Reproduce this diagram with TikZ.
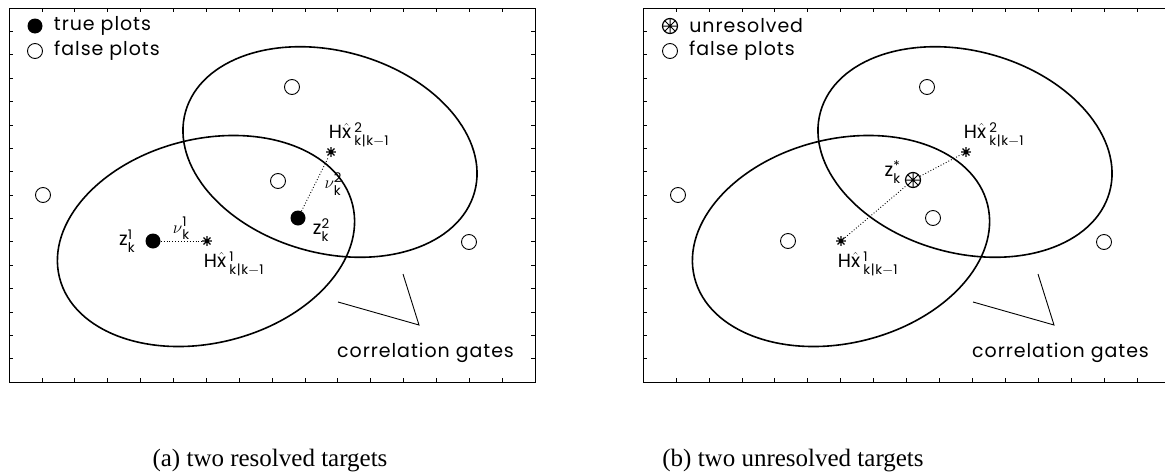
\documentclass[tikz,border=0pt]{standalone}
\usepackage{amsmath}
\usepackage{fontspec}
\newfontfamily\plotfont[LetterSpace=5]{Poppins}
\newfontfamily\capfont{Liberation Serif}
\usetikzlibrary{positioning}
\newcommand{\supsub}[2]{$^{\text{#1}}_{\text{#2}}$}
\newcommand{\hxhat}{H$\hat{\text{x}}$\,}

\begin{document}
\begin{tikzpicture}[x=1pt,y=-1pt,
  gate/.style={line width=1.6pt},
  plotframe/.style={line width=1pt},
  tick/.style={line width=0.6pt},
  falsept/.style={circle,draw,line width=0.9pt,minimum size=15pt,inner sep=0pt},
  truept/.style={circle,fill,minimum size=15pt,inner sep=0pt},
  predpt/.style={circle,minimum size=10pt,inner sep=0pt,path picture={
    \draw[line width=1.3pt]
      (path picture bounding box.north) -- (path picture bounding box.south)
      (path picture bounding box.east) -- (path picture bounding box.west)
      (path picture bounding box.north east) -- (path picture bounding box.south west)
      (path picture bounding box.north west) -- (path picture bounding box.south east);}},
  unrespt/.style={falsept,line width=1.2pt,path picture={
    \draw[line width=1pt]
      (path picture bounding box.north) -- (path picture bounding box.south)
      (path picture bounding box.east) -- (path picture bounding box.west)
      (path picture bounding box.north east) -- (path picture bounding box.south west)
      (path picture bounding box.north west) -- (path picture bounding box.south east);}},
  lbl/.style={font=\plotfont\fontsize{19}{21}\selectfont,inner sep=1pt},
  innov/.style={dotted,line width=0.9pt},
  pointer/.style={line width=0.9pt},
  captext/.style={font=\capfont\fontsize{25}{30}\selectfont}
]
  \useasboundingbox (0,0) rectangle (1165,474);
  \clip (0,0) rectangle (1165,474);

  \draw[plotframe] (9,8) rectangle (535,382);
  \draw[plotframe] (643,8) rectangle (1170,382);
  \foreach \l/\r in {9/535,643/1170} {
    \foreach \i in {1,...,15} {
      \draw[tick] ({\l+\i*(\r-\l)/16},8) -- ++(0,4);
      \draw[tick] ({\l+\i*(\r-\l)/16},382) -- ++(0,-4);
      \draw[tick] (\l,{8+\i*23.375}) -- ++(4,0);
      \draw[tick] (\r,{8+\i*23.375}) -- ++(-4,0);
    }
  }

  \node[truept] (aLegTrue) at (35,26) {};
  \node[lbl,right=10pt of aLegTrue] (aLegTrueTxt) {true plots};
  \node[falsept] (aLegFalse) at (35,51) {};
  \node[lbl,right=10pt of aLegFalse] (aLegFalseTxt) {false plots};

  \draw[gate] (330,152) ellipse [x radius=150,y radius=101,rotate=-15.5];
  \draw[gate] (206,241) ellipse [x radius=151,y radius=102,rotate=14];

  \node[falsept] (aF1) at (292,87) {};
  \node[falsept] (aF2) at (278,181) {};
  \node[falsept] (aF3) at (43,195) {};
  \node[falsept] (aF4) at (469,242) {};

  \node[truept] (aZ1) at (153,241) {};
  \node[truept] (aZ2) at (298,218) {};
  \node[predpt] (aP1) at (207,241) {};
  \node[predpt] (aP2) at (331,152) {};

  \draw[innov] (aZ1) -- node[lbl,above] (aNu1) {$\nu$\supsub{1}{k}} (aP1);
  \draw[innov] (aZ2) -- node[lbl,right=8pt] (aNu2) {$\nu$\supsub{2}{k}} (aP2);

  \node[lbl,left=9pt of aZ1] (aZ1Lbl) {z\supsub{1}{k}};
  \node[lbl,right=6pt of aZ2,yshift=-12pt] (aZ2Lbl) {z\supsub{2}{k}};
  \node[lbl,below right=6pt and -8pt of aP1] (aP1Lbl) {\hxhat\supsub{1}{k|k$-$1}};
  \node[lbl,above right=0pt and -7pt of aP2] (aP2Lbl) {\hxhat\supsub{2}{k|k$-$1}};

  \node[lbl,anchor=west] (aGateLbl) at (336,353) {correlation gates};
  \coordinate (aGateA) at (338,302);
  \coordinate (aGateV) at (419,325);
  \coordinate (aGateB) at (403,274);
  \draw[pointer] (aGateA) -- (aGateV) -- (aGateB);

  \node[captext,anchor=base] (capA) at (270,466) {(a) two resolved targets};

  \begin{scope}[xshift=635]
    \node[unrespt] (bLegUnres) at (35,26) {};
    \node[lbl,right=10pt of bLegUnres] (bLegUnresTxt) {unresolved};
    \node[falsept] (bLegFalse) at (35,51) {};
    \node[lbl,right=10pt of bLegFalse] (bLegFalseTxt) {false plots};

    \draw[gate] (330,152) ellipse [x radius=150,y radius=101,rotate=-15.5];
    \draw[gate] (206,241) ellipse [x radius=151,y radius=102,rotate=14];

    \node[falsept] (bF1) at (292,87) {};
    \node[falsept] (bF2) at (43,195) {};
    \node[falsept] (bF3) at (469,242) {};
    \node[falsept] (bF4) at (153,241) {};
    \node[falsept] (bF5) at (298,218) {};

    \node[unrespt] (bZs) at (278,180) {};
    \node[predpt] (bP1) at (206,241) {};
    \node[predpt] (bP2) at (331,152) {};

    \draw[innov] (bP1) -- (bZs) -- (bP2);

    \node[lbl,left=3pt of bZs,yshift=8pt] (bZsLbl) {z\supsub{*}{k}};
    \node[lbl,below right=6pt and -8pt of bP1] (bP1Lbl) {\hxhat\supsub{1}{k|k$-$1}};
    \node[lbl,above right=0pt and -7pt of bP2] (bP2Lbl) {\hxhat\supsub{2}{k|k$-$1}};

    \node[lbl,anchor=west] (bGateLbl) at (336,353) {correlation gates};
    \coordinate (bGateA) at (338,302);
    \coordinate (bGateV) at (419,325);
    \coordinate (bGateB) at (403,274);
    \draw[pointer] (bGateA) -- (bGateV) -- (bGateB);
  \end{scope}

  \node[captext,anchor=base] (capB) at (793,466) {(b) two unresolved targets};
\end{tikzpicture}
\end{document}
